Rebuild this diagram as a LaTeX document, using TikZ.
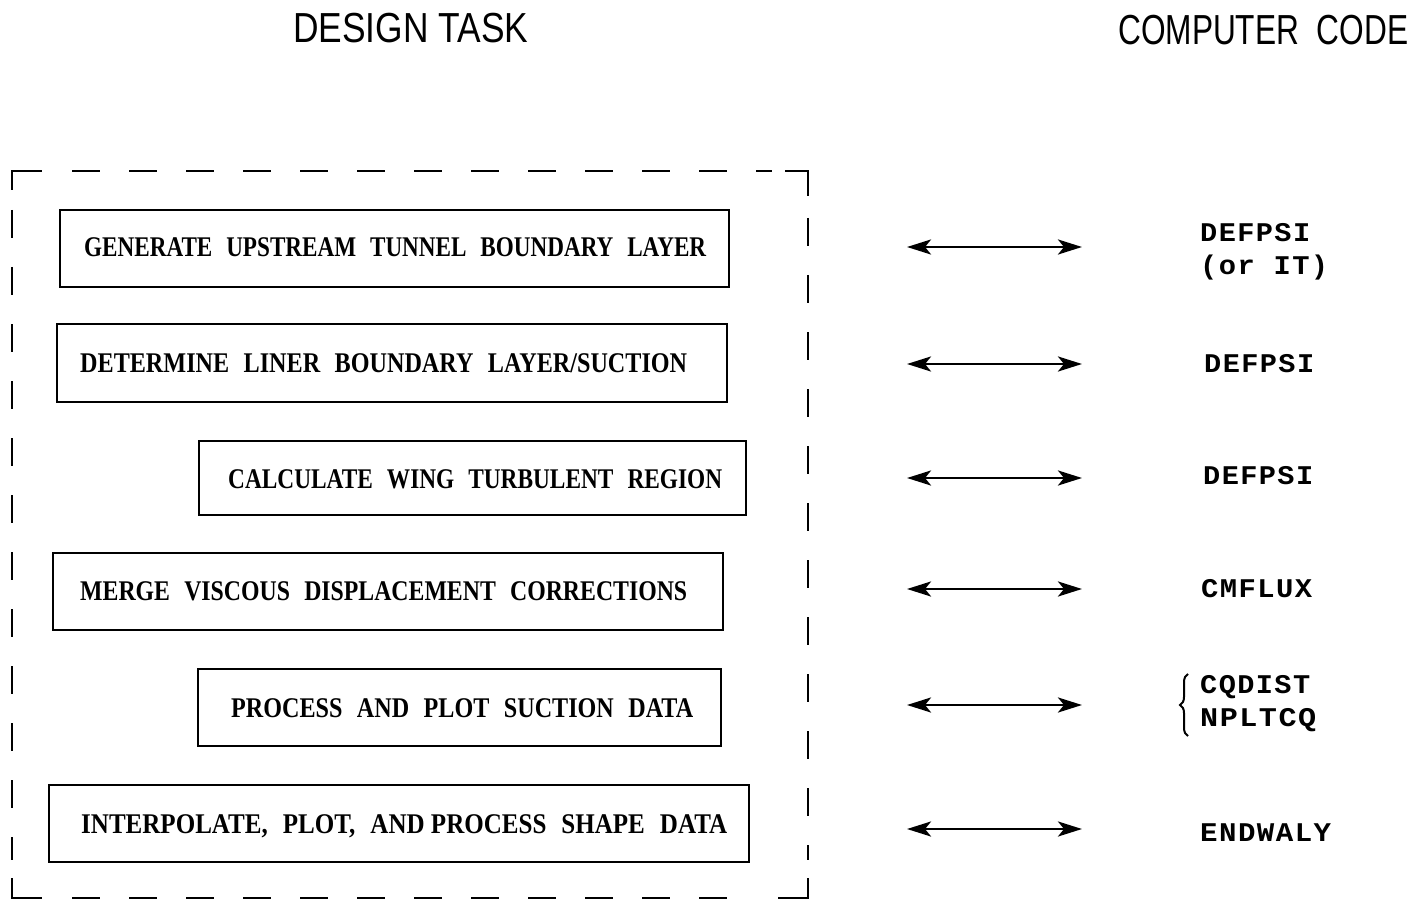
\documentclass[tikz,border=0pt]{standalone}
\usepackage{fontspec}
\usepackage{graphicx}
\setmainfont{Liberation Serif}
\newfontfamily\boxfont{Liberation Serif}
\newfontfamily\codefont{Liberation Mono}[LetterSpace=5]
\newfontfamily\headfont{Liberation Sans}
\usetikzlibrary{arrows.meta,decorations.pathreplacing}
\newcommand{\fitw}[2]{\resizebox{#1}{\height}{#2}}
\newcommand{\gp}{\hspace{0.6em}}
\begin{document}
\begin{tikzpicture}[x=1pt,y=-1pt,
  frame/.style={line width=2.4pt},
  framedash/.style={line width=2.4pt, dash pattern=on 28pt off 29pt},
  taskbox/.style={draw, line width=2.2pt, rectangle, inner sep=0pt},
  boxtext/.style={anchor=base west, inner sep=0pt, font=\boxfont\bfseries\fontsize{28.5}{32}\selectfont},
  codetext/.style={anchor=base west, inner sep=0pt, font=\codefont\bfseries\fontsize{27}{30}\selectfont},
  headtext/.style={anchor=base west, inner sep=0pt, font=\headfont\fontsize{42}{48}\selectfont},
  biarrow/.style={line width=2.8pt, {Stealth[length=24pt,width=15pt,inset=6pt]}-{Stealth[length=24pt,width=15pt,inset=6pt]}}
]
\fill[white] (0,0) rectangle (1418,901);

% headings
\node[headtext] (h1) at (293,43) {\fitw{235pt}{DESIGN TASK}};
\node[headtext] (h2) at (1118,45) {\fitw{290pt}{COMPUTER\ \ CODE}};

% dashed frame
\draw[frame] (12,190) -- (12,171) -- (42,171);
\draw[frame] (785,171) -- (808,171) -- (808,196);
\draw[frame] (12,878) -- (12,898) -- (42,898);
\draw[frame] (778,898) -- (808,898) -- (808,878);
\draw[framedash] (72,171) -- (772,171);
\draw[framedash] (72,898) -- (752,898);
\draw[framedash] (12,210) -- (12,860);
\draw[framedash] (808,218) -- (808,860);

% task boxes
\node[taskbox, minimum width=669pt, minimum height=77pt] (b1) at (394.5,248.5) {};
\node[taskbox, minimum width=670pt, minimum height=78pt] (b2) at (392,363) {};
\node[taskbox, minimum width=547pt, minimum height=74pt] (b3) at (472.5,478) {};
\node[taskbox, minimum width=670pt, minimum height=77pt] (b4) at (388,591.5) {};
\node[taskbox, minimum width=523pt, minimum height=77pt] (b5) at (459.5,707.5) {};
\node[taskbox, minimum width=700pt, minimum height=77pt] (b6) at (399,823.5) {};

\node[boxtext] (t1) at (84,257) {\fitw{622pt}{GENERATE\gp UPSTREAM\gp TUNNEL\gp BOUNDARY\gp LAYER}};
\node[boxtext] (t2) at (80,372) {\fitw{607pt}{DETERMINE\gp LINER\gp BOUNDARY\gp LAYER/SUCTION}};
\node[boxtext] (t3) at (228,488) {\fitw{494pt}{CALCULATE\gp WING\gp TURBULENT\gp REGION}};
\node[boxtext] (t4) at (80,600) {\fitw{607pt}{MERGE\gp VISCOUS\gp DISPLACEMENT\gp CORRECTIONS}};
\node[boxtext] (t5) at (231,717) {\fitw{462pt}{PROCESS\gp AND\gp PLOT\gp SUCTION\gp DATA}};
\node[boxtext] (t6) at (81,833) {\fitw{646pt}{INTERPOLATE,\gp PLOT,\gp AND PROCESS\gp SHAPE\gp DATA}};

% arrows
\foreach \i/\y in {1/247,2/364,3/478,4/589,5/705,6/829}{
  \coordinate (l\i) at (907,\y);
  \coordinate (r\i) at (1082,\y);
  \draw[biarrow] (l\i) -- (r\i);
}

% computer code
\node[codetext] (c1a) at (1200,242) {\fitw{110pt}{DEFPSI}};
\node[codetext] (c1b) at (1200,275) {\fitw{128pt}{(or IT)}};
\node[codetext] (c2) at (1204,372) {\fitw{110pt}{DEFPSI}};
\node[codetext] (c3) at (1203,484) {\fitw{110pt}{DEFPSI}};
\node[codetext] (c4) at (1201,597) {\fitw{111pt}{CMFLUX}};
\node[codetext] (c5a) at (1200,693) {\fitw{110pt}{CQDIST}};
\node[codetext] (c5b) at (1200,726) {\fitw{116pt}{NPLTCQ}};
\node[codetext] (c6) at (1200,841) {\fitw{131pt}{ENDWALY}};
\coordinate (brb) at (1188,736);
\coordinate (brt) at (1188,674);
\draw[line width=2pt, decorate, decoration={brace, amplitude=8pt}] (brb) -- (brt);
\end{tikzpicture}
\end{document}
